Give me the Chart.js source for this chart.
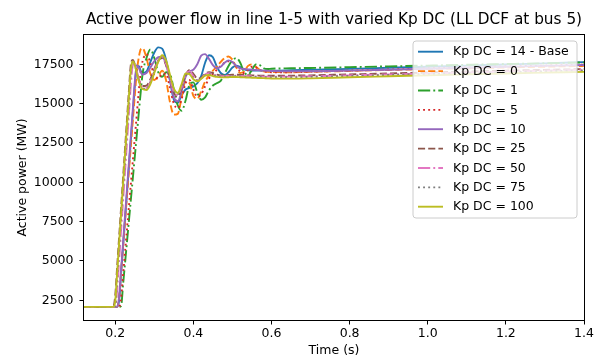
<!DOCTYPE html>
<html>
<head>
<meta charset="utf-8">
<script src="https://cdn.jsdelivr.net/npm/chart.js@4/dist/chart.umd.min.js"></script>
<style>
  html, body { margin: 0; padding: 0; background: #fff; }
  #c { display: block; }
</style>
</head>
<body>
<canvas id="c" width="601" height="361"></canvas>
<script>
// Simulation time (s)
const time = [0.12, 0.195, 0.2, 0.205, 0.21, 0.215, 0.22, 0.225, 0.23, 0.235, 0.24, 0.245, 0.25, 0.255, 0.26, 0.265, 0.27,
  0.28, 0.29, 0.3, 0.31, 0.32, 0.33, 0.34, 0.35, 0.36, 0.37, 0.38, 0.39, 0.4, 0.41, 0.42, 0.43, 0.44, 0.45, 0.46, 0.47,
  0.48, 0.49, 0.5, 0.51, 0.52, 0.53, 0.54, 0.55, 0.56, 0.57, 0.58, 0.59, 0.6,
  0.65, 0.7, 0.8, 0.9, 1.0, 1.1, 1.2, 1.3, 1.4];

// Active power in line 1-5 (MW) for each DC proportional gain
const kp14 = [2080, 2080, 2080, 2080, 2500, 4200, 5900, 7600, 9300, 11000, 12700, 14400, 16100, 17300, 17400, 17100, 16950,
  17050, 17650, 18250, 18580, 18500, 17800, 16500, 15250, 15050, 15550, 15900, 16000, 16100, 16300, 16750, 17600, 18080, 17950, 17350, 16950,
  16820, 17000, 17300, 17420, 17320, 17180, 17120, 17110, 17100, 17100, 17100, 17100, 17100,
  17120, 17150, 17210, 17280, 17350, 17420, 17490, 17560, 17640];
const kp0 = [2080, 2080, 2080, 2080, 2720, 4320, 5920, 7520, 9120, 10720, 12320, 13920, 15520, 17000, 17900, 18450, 18520,
  17900, 16900, 16500, 16750, 17100, 16500, 15100, 14300, 14350, 15400, 16400, 16300, 15500, 15300, 15800, 16400, 16800, 17100, 17350, 17650,
  17900, 18000, 17800, 17300, 16950, 17050, 17400, 17500, 17350, 17150, 17050, 17020, 17010,
  17000, 17020, 17080, 17140, 17200, 17250, 17300, 17350, 17400];
const kp1 = [2080, 2080, 2080, 2080, 2080, 2140, 3500, 4850, 6200, 7560, 8910, 10270, 11620, 12980, 14330, 15690, 16900,
  17900, 18450, 17900, 17000, 16700, 17000, 16900, 15900, 14900, 14550, 15200, 16200, 16350, 15700, 15250, 15400, 15850, 16150, 16300, 16450,
  16900, 17400, 17750, 17900, 17600, 17000, 16850, 17150, 17500, 17450, 17250, 17200, 17220,
  17250, 17270, 17320, 17370, 17420, 17470, 17520, 17570, 17620];
const kp5 = [2080, 2080, 2080, 2080, 2080, 2660, 4110, 5560, 7010, 8460, 9910, 11360, 12810, 14260, 15710, 17000, 17700,
  18150, 17600, 16800, 16600, 16900, 16900, 16000, 15000, 14700, 15300, 16300, 16500, 15900, 15450, 15600, 16100, 16600, 16900, 17150, 17400,
  17600, 17700, 17650, 17350, 17050, 16950, 17150, 17350, 17300, 17150, 17050, 17020, 17000,
  17000, 17030, 17100, 17170, 17240, 17300, 17360, 17420, 17480];
const kp10 = [2080, 2080, 2080, 2080, 2760, 4460, 6160, 7860, 9560, 11260, 12960, 14660, 16360, 17450, 17300, 17000, 16850,
  16950, 17300, 17700, 17950, 17980, 17500, 16500, 15400, 15150, 15800, 16700, 17050, 17150, 17500, 18050, 18150, 17850, 17450, 17250, 17350,
  17600, 17750, 17650, 17400, 17250, 17200, 17180, 17160, 17140, 17120, 17100, 17090, 17080,
  17060, 17060, 17100, 17160, 17220, 17280, 17340, 17400, 17460];
const kp25 = [2080, 2080, 2820, 4680, 6540, 8400, 10260, 12120, 13980, 15840, 17500, 17780, 17500, 17000, 16550, 16250, 16120,
  16150, 16550, 17200, 17750, 17900, 17450, 16600, 15700, 15450, 16000, 16800, 17150, 16900, 16600, 16650, 16900, 17000, 16950, 16850, 16800,
  16800, 16820, 16840, 16840, 16830, 16820, 16810, 16800, 16790, 16780, 16770, 16770, 16770,
  16780, 16800, 16860, 16920, 16980, 17040, 17100, 17150, 17200];
const kp50 = [2080, 2080, 2080, 3200, 5060, 6920, 8780, 10640, 12500, 14360, 16200, 17450, 17550, 17100, 16600, 16250, 16050,
  16000, 16400, 17100, 17700, 17950, 17550, 16650, 15750, 15550, 16100, 16850, 17050, 16750, 16500, 16600, 16850, 16930, 16870, 16790, 16750,
  16750, 16760, 16770, 16770, 16760, 16750, 16740, 16740, 16730, 16730, 16720, 16720, 16720,
  16720, 16740, 16800, 16860, 16920, 16980, 17040, 17100, 17160];
const kp75 = [2080, 2080, 2080, 3940, 5800, 7660, 9520, 11380, 13240, 15100, 16950, 17650, 17500, 17000, 16500, 16150, 15980,
  15950, 16350, 17050, 17700, 18000, 17650, 16750, 15850, 15600, 16150, 16880, 16950, 16650, 16480, 16600, 16820, 16880, 16820, 16750, 16720,
  16720, 16730, 16740, 16740, 16730, 16720, 16710, 16700, 16700, 16690, 16690, 16680, 16680,
  16680, 16700, 16760, 16820, 16880, 16940, 17000, 17060, 17120];
const kp100 = [2080, 2080, 2450, 4310, 6170, 8030, 9890, 11750, 13610, 15470, 17200, 17680, 17450, 16950, 16450, 16100, 15930,
  15870, 16250, 16950, 17650, 18080, 17750, 16850, 15950, 15680, 16250, 16920, 16880, 16550, 16420, 16580, 16780, 16820, 16760, 16700, 16670,
  16670, 16680, 16690, 16690, 16680, 16670, 16660, 16650, 16640, 16630, 16620, 16610, 16600,
  16590, 16610, 16680, 16740, 16800, 16860, 16920, 16970, 17020];

const seriesLabels = ['Kp DC = 14 - Base', 'Kp DC = 0', 'Kp DC = 1', 'Kp DC = 5', 'Kp DC = 10',
  'Kp DC = 25', 'Kp DC = 50', 'Kp DC = 75', 'Kp DC = 100'];
const seriesValues = [kp14, kp0, kp1, kp5, kp10, kp25, kp50, kp75, kp100];

const xTicks = [0.2, 0.4, 0.6, 0.8, 1.0, 1.2, 1.4];
const yTicks = [2500, 5000, 7500, 10000, 12500, 15000, 17500];

const chartTitle = 'Active power flow in line 1-5 with varied Kp DC (LL DCF at bus 5)';
const xTitle = 'Time (s)';
const yTitle = 'Active power (MW)';

// Styling
const FONT = "'DejaVu Sans', sans-serif";
const FS = 12.5;
const colors = ['#1f77b4', '#ff7f0e', '#2ca02c', '#d62728', '#9467bd', '#8c564b', '#e377c2', '#7f7f7f', '#bcbd22'];
const DASHED = [7.1, 3.1];
const DASHDOT = [12.2, 3.1, 1.9, 3.1];
const DOTTED = [1.9, 3.2];
const dashes = [[], DASHED, DASHDOT, DOTTED, [], DASHED, DASHDOT, DOTTED, []];
const LW = 1.9;

const datasets = seriesValues.map((vals, i) => ({
  label: seriesLabels[i],
  data: time.map((t, k) => ({ x: t, y: vals[k] })),
  borderColor: colors[i],
  backgroundColor: colors[i],
  borderWidth: LW,
  borderDash: dashes[i],
  borderJoinStyle: 'round',
  pointRadius: 0,
  fill: false,
  cubicInterpolationMode: 'monotone',
  order: seriesValues.length - i
}));

const decor = {
  id: 'decor',
  afterDatasetsDraw(chart) {
    const { ctx, chartArea: a } = chart;
    ctx.save();
    // axes frame
    ctx.strokeStyle = '#000';
    ctx.lineWidth = 1;
    ctx.setLineDash([]);
    ctx.strokeRect(Math.round(a.left) - 0.5, Math.round(a.top) - 0.5,
      Math.round(a.right - a.left) + 1, Math.round(a.bottom - a.top) + 1);

    // legend
    const lx = 413, ly = 41, lw = 164, lh = 177, r = 3;
    ctx.beginPath();
    ctx.moveTo(lx + r, ly);
    ctx.arcTo(lx + lw, ly, lx + lw, ly + lh, r);
    ctx.arcTo(lx + lw, ly + lh, lx, ly + lh, r);
    ctx.arcTo(lx, ly + lh, lx, ly, r);
    ctx.arcTo(lx, ly, lx + lw, ly, r);
    ctx.closePath();
    ctx.fillStyle = 'rgba(255,255,255,0.8)';
    ctx.fill();
    ctx.strokeStyle = '#cccccc';
    ctx.lineWidth = 1;
    ctx.stroke();

    ctx.font = FS + 'px ' + FONT;
    ctx.textBaseline = 'middle';
    ctx.textAlign = 'left';
    seriesLabels.forEach((lab, i) => {
      const yc = 51.7 + i * 19.375;
      ctx.beginPath();
      ctx.setLineDash(dashes[i]);
      ctx.strokeStyle = colors[i];
      ctx.lineWidth = LW;
      ctx.moveTo(418, yc);
      ctx.lineTo(443, yc);
      ctx.stroke();
      ctx.setLineDash([]);
      ctx.fillStyle = '#000';
      ctx.fillText(lab, 453, yc + 0.5);
    });

    // title
    ctx.font = '15.3px ' + FONT;
    ctx.textAlign = 'center';
    ctx.textBaseline = 'alphabetic';
    ctx.fillStyle = '#000';
    ctx.fillText(chartTitle, (a.left + a.right) / 2, 24);
    ctx.restore();
  }
};

new Chart(document.getElementById('c'), {
  type: 'line',
  data: { datasets },
  options: {
    responsive: false,
    devicePixelRatio: 1,
    animation: false,
    events: [],
    layout: { padding: { left: 0, right: 17, top: 35, bottom: 0 } },
    plugins: { legend: { display: false }, title: { display: false }, tooltip: { enabled: false } },
    scales: {
      x: {
        type: 'linear',
        min: 0.12,
        max: 1.4,
        afterBuildTicks: s => { s.ticks = xTicks.map(v => ({ value: v })); },
        afterFit: s => { s.height = 41; },
        ticks: {
          autoSkip: false,
          maxRotation: 0,
          padding: 2,
          color: '#000',
          font: { family: FONT, size: FS },
          callback: v => Number(v).toFixed(1)
        },
        grid: { drawOnChartArea: false, drawTicks: true, tickLength: 4.5, color: '#000', tickWidth: 1 },
        border: { display: false },
        title: { display: true, text: xTitle, color: '#000', font: { family: FONT, size: FS }, padding: { top: 0, bottom: 3 } }
      },
      y: {
        type: 'linear',
        min: 1245,
        max: 19365,
        afterBuildTicks: s => { s.ticks = yTicks.map(v => ({ value: v })); },
        afterFit: s => { s.width = 84; },
        ticks: {
          autoSkip: false,
          padding: 6,
          color: '#000',
          font: { family: FONT, size: FS },
          callback: v => String(v)
        },
        grid: { drawOnChartArea: false, drawTicks: true, tickLength: 4.5, color: '#000', tickWidth: 1 },
        border: { display: false },
        title: { display: true, text: yTitle, color: '#000', font: { family: FONT, size: FS }, padding: { top: 15, bottom: 0 } }
      }
    }
  },
  plugins: [decor]
});
</script>
</body>
</html>
